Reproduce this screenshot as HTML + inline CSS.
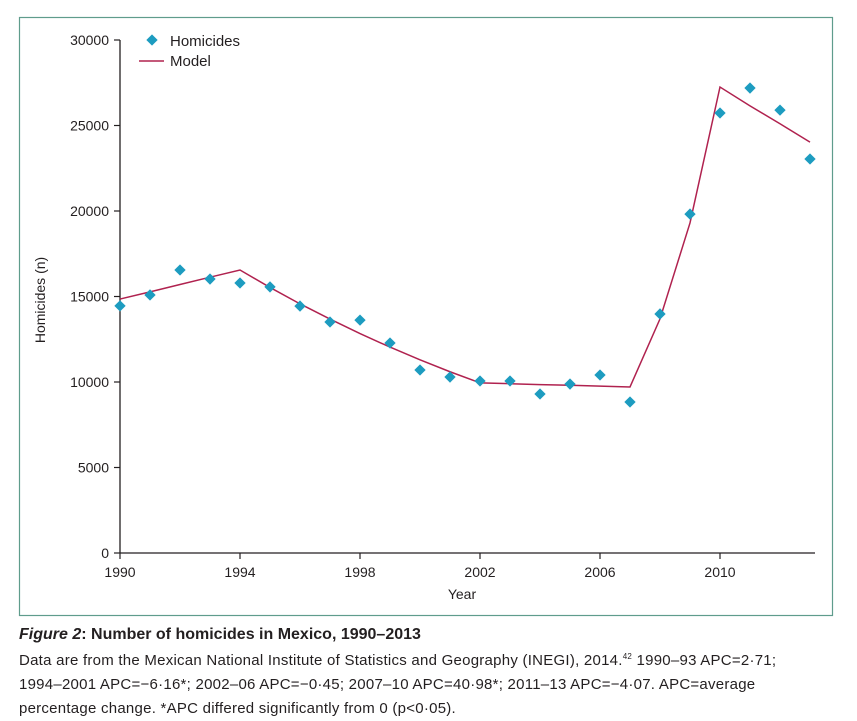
<!DOCTYPE html>
<html><head><meta charset="utf-8"><style>
body{margin:0;background:#fff;width:857px;height:721px;overflow:hidden;font-family:"Liberation Sans",sans-serif;}
svg text{font-family:"Liberation Sans",sans-serif;}
.cap{position:absolute;left:19px;font-size:15px;color:#231f20;white-space:nowrap;letter-spacing:0.25px;}
</style></head><body>
<svg id="chart" width="857" height="620" style="position:absolute;left:0;top:0">
<rect x="19.5" y="17.5" width="813" height="598" fill="none" stroke="#5f9c8c" stroke-width="1.2"/>
<g id="axes"></g><g id="marks"></g>
<g>
<rect x="148" y="36" width="8" height="8" fill="#1d9cc0" transform="rotate(45 152 40)"/>
<text x="170" y="46" font-size="15" fill="#231f20">Homicides</text>
<line x1="139" y1="61" x2="164" y2="61" stroke="#b0224f" stroke-width="1.5"/>
<text x="170" y="66" font-size="15" fill="#231f20">Model</text>
</g>
<text x="462" y="599" font-size="14" text-anchor="middle" fill="#231f20">Year</text>
<text x="0" y="0" font-size="14" text-anchor="middle" fill="#231f20" transform="translate(45,300) rotate(-90)">Homicides (n)</text>
</svg>
<div class="cap" style="top:626px;font-size:16px;font-weight:bold;letter-spacing:0;"><i>Figure 2</i>: Number of homicides in Mexico, 1990–2013</div>
<div class="cap" style="top:652px;">Data are from the Mexican National Institute of Statistics and Geography (INEGI), 2014.<sup style="font-size:8px">42</sup> 1990–93 APC=2·71;</div>
<div class="cap" style="top:676px;">1994–2001 APC=−6·16*; 2002–06 APC=−0·45; 2007–10 APC=40·98*; 2011–13 APC=−4·07. APC=average</div>
<div class="cap" style="top:700px;">percentage change. *APC differed significantly from 0 (p&lt;0·05).</div>
<script>
const years=[1990,1991,1992,1993,1994,1995,1996,1997,1998,1999,2000,2001,2002,2003,2004,2005,2006,2007,2008,2009,2010,2011,2012,2013];
const homicides=[14450,15090,16550,16020,15790,15560,14440,13510,13620,12280,10700,10290,10060,10060,9300,9880,10410,8830,13980,19820,25730,27190,25900,23040];
const model=[14850,15270,15700,16130,16550,15530,14570,13680,12830,12040,11300,10600,9950,9900,9850,9810,9760,9710,13690,19300,27250,26150,25100,24030];
const xTicks=[1990,1994,1998,2002,2006,2010];
const yTicks=[0,5000,10000,15000,20000,25000,30000];
const NS="http://www.w3.org/2000/svg";
const x=v=>120+(v-1990)*30;
const y=v=>553-v*(513/30000);
function mk(tag,attrs,parent){const e=document.createElementNS(NS,tag);for(const k in attrs)e.setAttribute(k,attrs[k]);parent.appendChild(e);return e;}
const ax=document.getElementById('axes'),mg=document.getElementById('marks');
let e;
e=mk('line',{x1:120,y1:y(30000),x2:120,y2:553,stroke:'#231f20','stroke-width':1.3},ax);


e=mk('line',{x1:120,y1:553,x2:815,y2:553,stroke:'#231f20','stroke-width':1.3},ax);


yTicks.forEach(t=>{
 e=mk('line',{x1:114,y1:y(t),x2:120,y2:y(t),stroke:'#231f20','stroke-width':1.2},ax);
 
 
 e=mk('text',{x:109,y:y(t)+5,'font-size':14,'text-anchor':'end',fill:'#231f20'},ax);
 e.textContent=t;
 
 
});
xTicks.forEach(t=>{
 e=mk('line',{x1:x(t),y1:553,x2:x(t),y2:559,stroke:'#231f20','stroke-width':1.2},ax);
 
 
 e=mk('text',{x:x(t),y:577,'font-size':14,'text-anchor':'middle',fill:'#231f20'},ax);
 e.textContent=t;
 
 
});
e=mk('polyline',{points:years.map((yr,i)=>x(yr)+','+y(model[i])).join(' '),fill:'none',stroke:'#b0224f','stroke-width':1.5},mg);


years.forEach((yr,i)=>{
 const cx=x(yr),cy=y(homicides[i]);
 e=mk('rect',{x:cx-4,y:cy-4,width:8,height:8,fill:'#1d9cc0',transform:`rotate(45 ${cx} ${cy})`},mg);
 
 
});
</script>
</body></html>
